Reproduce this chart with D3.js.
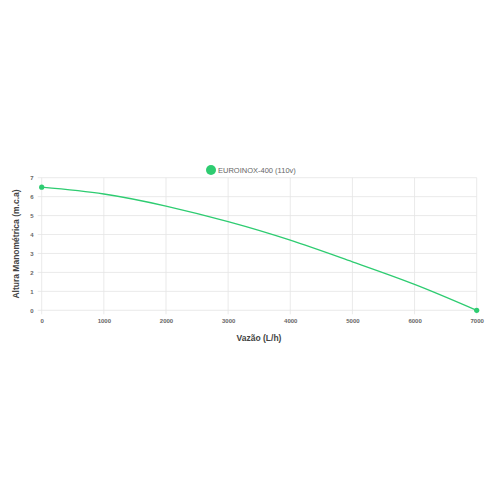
<!DOCTYPE html>
<html lang="pt">
<head>
<meta charset="utf-8">
<style>
  body { margin: 0; background: #fff; }
  .tick text { font-family: "Liberation Sans", Arial, sans-serif; font-size: 6px; font-weight: bold; fill: #666; }
  .axis_title { font-family: "Liberation Sans", Arial, sans-serif; font-size: 8.5px; font-weight: bold; fill: #444; }
  .legend_text { font-family: "Liberation Sans", Arial, sans-serif; font-size: 7.5px; fill: #666; }
</style>
</head>
<body>
<script src="https://cdn.jsdelivr.net/npm/d3@7"></script>
<script>
var vazao = [0, 1000, 2000, 3000, 4000, 5000, 6000, 7000];
var altura = [6.5, 6.14, 5.5, 4.68, 3.7, 2.56, 1.37, 0];
var xTicks = [0, 1000, 2000, 3000, 4000, 5000, 6000, 7000];
var yTicks = [0, 1, 2, 3, 4, 5, 6, 7];
var seriesName = "EUROINOX-400 (110v)";
var green = "#2ecc71";

var plotLeft = 41.7, plotRight = 476.7, plotTop = 177.7, plotBottom = 310.3;

var svg = d3.select("body").append("svg")
    .attr("width", 500).attr("height", 500);

var x = d3.scaleLinear().domain([0, 7000]).range([plotLeft, plotRight]);
var y = d3.scaleLinear().domain([0, 7]).range([plotBottom, plotTop]);

// grid
svg.append("g").selectAll("line").data(xTicks).enter().append("line")
    .attr("x1", function(d) { return x(d); }).attr("x2", function(d) { return x(d); })
    .attr("y1", plotTop).attr("y2", plotBottom + 4)
    .attr("stroke", "#e4e4e4").attr("stroke-width", 0.8);
svg.append("g").selectAll("line").data(yTicks).enter().append("line")
    .attr("x1", plotLeft - 4).attr("x2", plotRight)
    .attr("y1", function(d) { return y(d); }).attr("y2", function(d) { return y(d); })
    .attr("stroke", "#e4e4e4").attr("stroke-width", 0.8);

// axes
var xa = svg.append("g")
    .attr("transform", "translate(0," + plotBottom + ")")
    .call(d3.axisBottom(x).tickValues(xTicks).tickSize(0).tickPadding(8).tickFormat(d3.format("d")));
xa.select(".domain").remove();

var ya = svg.append("g")
    .attr("transform", "translate(" + plotLeft + ",0)")
    .call(d3.axisLeft(y).tickValues(yTicks).tickSize(0).tickPadding(8).tickFormat(d3.format("d")));
ya.select(".domain").remove();

// curve
var pts = vazao.map(function(v, i) { return [v, altura[i]]; });
var line = d3.line()
    .x(function(d) { return x(d[0]); })
    .y(function(d) { return y(d[1]); })
    .curve(d3.curveNatural);

svg.append("path").datum(pts)
    .attr("d", line)
    .attr("fill", "none")
    .attr("stroke", green)
    .attr("stroke-width", 1.3);

svg.selectAll(".pt").data([pts[0], pts[pts.length - 1]]).enter().append("circle")
    .attr("class", "pt")
    .attr("cx", function(d) { return x(d[0]); })
    .attr("cy", function(d) { return y(d[1]); })
    .attr("r", 2.6)
    .attr("fill", green);

// legend
svg.append("circle").attr("cx", 211).attr("cy", 170).attr("r", 5).attr("fill", green);
svg.append("text").attr("class", "legend_text")
    .attr("x", 218).attr("y", 172.5).text(seriesName);

// axis titles
svg.append("text").attr("class", "axis_title")
    .attr("x", 259).attr("y", 341).attr("text-anchor", "middle")
    .text("Vazão (L/h)");
svg.append("text").attr("class", "axis_title")
    .attr("transform", "translate(19,244) rotate(-90)")
    .attr("text-anchor", "middle")
    .text("Altura Manométrica (m.c.a)");
</script>
</body>
</html>
